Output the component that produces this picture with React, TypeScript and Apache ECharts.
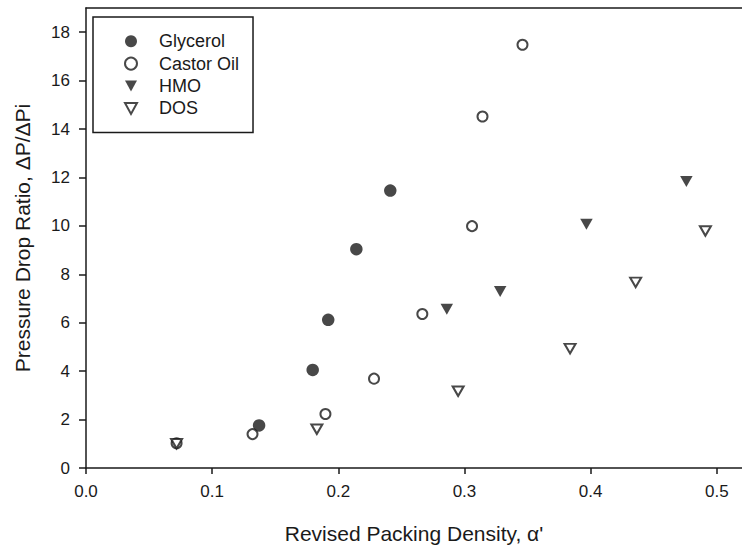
import React, { useEffect, useRef } from "react";
import * as echarts from "echarts";

const glycerol: [number, number][] = [
  [0.1372, 1.76],
  [0.1797, 4.05],
  [0.192, 6.12],
  [0.2143, 9.04],
  [0.2412, 11.46],
];
const castorOil: [number, number][] = [
  [0.0718, 1.02],
  [0.132, 1.4],
  [0.1898, 2.23],
  [0.2283, 3.69],
  [0.2666, 6.36],
  [0.306, 9.99],
  [0.3143, 14.52],
  [0.346, 17.48],
];
const hmo: [number, number][] = [
  [0.286, 6.56],
  [0.3283, 7.29],
  [0.3967, 10.07],
  [0.4759, 11.83],
];
const dos: [number, number][] = [
  [0.0718, 1.0],
  [0.183, 1.6],
  [0.295, 3.17],
  [0.3837, 4.93],
  [0.4357, 7.67],
  [0.491, 9.79],
];
const xTicks = [0, 0.1, 0.2, 0.3, 0.4, 0.5];
const yTicks = [0, 2, 4, 6, 8, 10, 12, 14, 16, 18];

const INK = "#1a1a1a";
const FONT = "Liberation Sans, Arial, sans-serif";
const DOWN_TRI = "path://M0,0L12,0L6,11Z";

export default function App() {
  const ref = useRef<HTMLDivElement>(null);
  useEffect(() => {
    if (!ref.current) return;
    const chart = echarts.init(ref.current, undefined, { renderer: "svg" });
    const filled = { color: INK };
    const open = { color: "#ffffff", borderColor: INK, borderWidth: 2 };
    chart.setOption({
      animation: false,
      backgroundColor: "#ffffff",
      grid: { left: 86, top: 8, right: -1, bottom: 86, containLabel: false },
      legend: {
        orient: "vertical",
        left: 93,
        top: 17,
        padding: [13, 14, 13, 31],
        borderColor: INK,
        borderWidth: 1.5,
        itemWidth: 12,
        itemHeight: 12,
        itemGap: 0,
        textStyle: { fontFamily: FONT, fontSize: 18, color: INK, lineHeight: 22.4, padding: [0, 0, 0, 17] },
        data: [
          { name: "Glycerol", icon: "circle" },
          { name: "Castor Oil", icon: "circle" },
          { name: "HMO", icon: DOWN_TRI },
          { name: "DOS", icon: DOWN_TRI },
        ],
      },
      xAxis: [
        {
          type: "value",
          min: 0,
          max: 0.52,
          position: "bottom",
          name: "Revised Packing Density, \u03b1'",
          nameLocation: "middle",
          nameGap: 55,
          nameTextStyle: { fontFamily: FONT, fontSize: 21, color: INK },
          axisLine: { show: true, onZero: false, lineStyle: { color: INK, width: 1.5 } },
          axisTick: { show: true, inside: false, length: 6, customValues: xTicks, lineStyle: { color: INK, width: 1.5 } },
          axisLabel: {
            customValues: xTicks,
            margin: 15,
            fontFamily: FONT,
            fontSize: 17,
            color: INK,
            formatter: (v: number) => v.toFixed(1),
          },
          splitLine: { show: false },
        },
        {
          type: "value",
          min: 0,
          max: 0.52,
          position: "top",
          axisLine: { show: true, onZero: false, lineStyle: { color: INK, width: 1.5 } },
          axisTick: { show: false },
          axisLabel: { show: false },
          splitLine: { show: false },
        },
      ],
      yAxis: {
        type: "value",
        min: 0,
        max: 19,
        name: "Pressure Drop Ratio, \u0394P/\u0394Pi",
        nameLocation: "middle",
        nameGap: 53,
        nameTextStyle: { fontFamily: FONT, fontSize: 21, color: INK },
        axisLine: { show: true, onZero: false, lineStyle: { color: INK, width: 1.5 } },
        axisTick: { show: true, inside: false, length: 7, customValues: yTicks, lineStyle: { color: INK, width: 1.5 } },
        axisLabel: { customValues: yTicks, margin: 16, fontFamily: FONT, fontSize: 17, color: INK },
        splitLine: { show: false },
      },
      series: [
        {
          name: "Glycerol",
          type: "scatter",
          data: glycerol,
          symbol: "circle",
          symbolSize: 12.5,
          itemStyle: filled,
        },
        {
          name: "Castor Oil",
          type: "scatter",
          data: castorOil,
          symbol: "circle",
          symbolSize: 10,
          itemStyle: open,
        },
        {
          name: "HMO",
          type: "scatter",
          data: hmo,
          symbol: "triangle",
          symbolRotate: 180,
          symbolSize: [12.5, 11],
          itemStyle: filled,
        },
        {
          name: "DOS",
          type: "scatter",
          data: dos,
          symbol: "triangle",
          symbolRotate: 180,
          symbolSize: [11, 9.5],
          itemStyle: open,
        },
      ],
    });
    return () => chart.dispose();
  }, []);
  return (
    <div
      ref={ref}
      style={{ position: "absolute", left: 0, top: 0, width: 742, height: 554, background: "#fff" }}
    />
  );
}
